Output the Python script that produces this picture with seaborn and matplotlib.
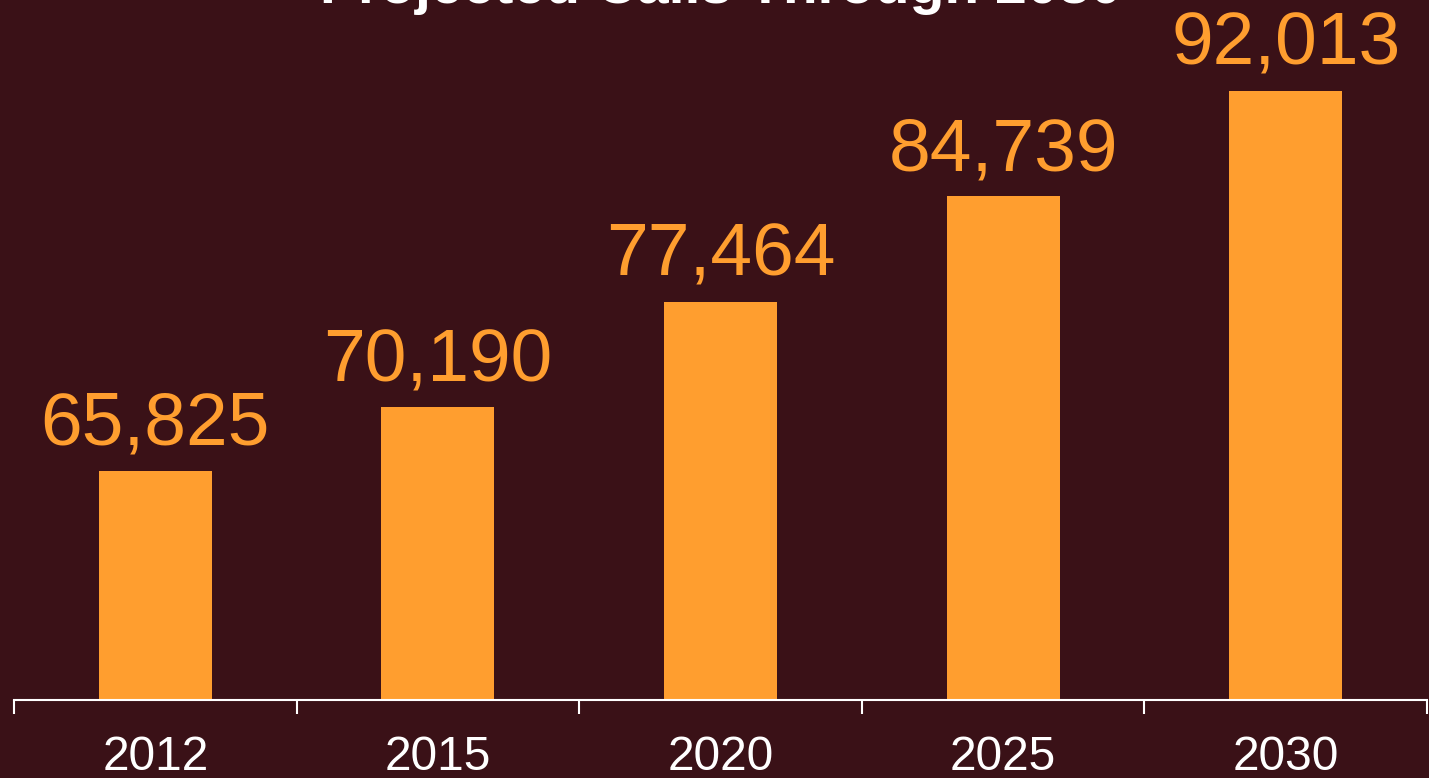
import matplotlib
matplotlib.use('Agg')
import matplotlib.pyplot as plt
import seaborn as sns
import pandas as pd
from matplotlib.ticker import FixedLocator

# Projected calls data
years = ['2012', '2015', '2020', '2025', '2030']
calls = [65825, 70190, 77464, 84739, 92013]

bg_color = '#3A1117'
bar_color = '#FF9E2F'

sns.set_theme(style='white')
plt.rcParams['font.family'] = ['Liberation Sans', 'DejaVu Sans']

df = pd.DataFrame({'year': years, 'calls': calls})

fig = plt.figure(figsize=(14.29, 7.78), dpi=100, facecolor=bg_color)
ax = fig.add_axes([14 / 1429, 78 / 778, 1413 / 1429, 700 / 778])
ax.set_facecolor(bg_color)

sns.barplot(data=df, x='year', y='calls', color=bar_color, width=0.4,
            saturation=1, linewidth=0, ax=ax)

ax.set_xlim(-0.5, len(years) - 0.5)
ax.set_ylim(50000, 50000 + 700 / 0.014496)

# value labels above bars
for c in ax.containers:
    ax.bar_label(c, labels=[f'{v:,}' for v in calls], padding=8,
                 fontsize=54, color=bar_color)

# axis styling
for s in ['top', 'right', 'left']:
    ax.spines[s].set_visible(False)
ax.spines['bottom'].set_color('white')
ax.spines['bottom'].set_linewidth(1.5)
ax.set_yticks([])
ax.set_xlabel('')
ax.set_ylabel('')
ax.xaxis.set_minor_locator(FixedLocator([i - 0.5 for i in range(len(years) + 1)]))
ax.tick_params(axis='x', which='major', length=0, pad=25, labelsize=34.5,
               labelcolor='white')
ax.tick_params(axis='x', which='minor', length=10, width=1.5, color='white',
               direction='out', bottom=True)

# title sits mostly above the visible area, as in the original
fig.text(720.5 / 1429, 1 - 3 / 778, 'Projected Calls Through 2030', ha='center',
         va='baseline', fontsize=41, fontweight='bold', color='white')

plt.savefig('out.png', dpi=100, facecolor=bg_color)
